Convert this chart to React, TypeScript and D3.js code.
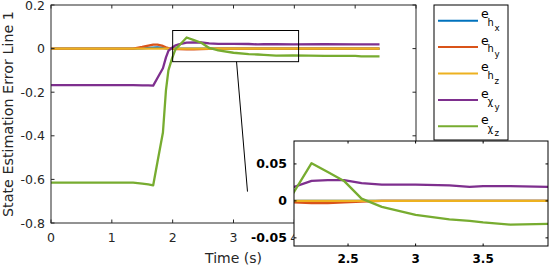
import * as d3 from "d3";
import React from "react";

// time samples (s) and error values
const tBase = [0, 1.35, 1.5, 1.6, 1.68, 1.75, 1.84, 1.89, 1.93, 1.99, 2.05, 2.1, 2.23, 2.35, 2.47, 2.6, 2.75, 3.0, 3.25, 3.4, 3.5, 3.7, 3.98, 4.5, 5.0, 5.1, 5.4];

const ehx = [0, 0, 0.001, 0.003, 0.004, 0.005, 0.003, 0.001, 0, 0, 0, 0, 0, 0, 0, 0, 0, 0, 0, 0, 0, 0, 0, 0, 0, 0, 0];
const ehy = [0, 0, 0.008, 0.014, 0.018, 0.018, 0.012, 0.006, 0.002, 0, -0.002, -0.002, -0.003, -0.003, -0.002, -0.001, 0, 0, 0, 0, 0, 0, 0, 0, 0, 0, 0];
const ehz = [0, 0, 0, 0, 0, 0, 0, 0, 0, 0, 0, 0, 0, 0, 0, 0, 0, 0, 0, 0, 0, 0, 0, 0, 0, 0, 0];
const exy = [-0.168, -0.168, -0.169, -0.169, -0.17, -0.135, -0.09, -0.04, -0.01, 0.004, 0.015, 0.019, 0.027, 0.028, 0.028, 0.024, 0.022, 0.022, 0.021, 0.019, 0.02, 0.02, 0.019, 0.02, 0.019, 0.019, 0.019];
const exz = [-0.615, -0.615, -0.619, -0.623, -0.627, -0.52, -0.385, -0.19, -0.1, -0.045, 0.0, 0.012, 0.051, 0.039, 0.027, 0.003, -0.008, -0.019, -0.025, -0.027, -0.029, -0.032, -0.031, -0.033, -0.033, -0.036, -0.036];

const seriesNames = ["hx", "hy", "hz", "xy", "xz"];
const seriesValues = [ehx, ehy, ehz, exy, exz];
const seriesColors = ["#0072BD", "#D95319", "#EDB120", "#7E2F8E", "#77AC30"];
const legendSub = ["h", "h", "h", "\u03C7", "\u03C7"];
const legendSubSub = ["x", "y", "z", "y", "z"];

const xTicks = [0, 1, 2, 3, 4, 5, 6];
const yTicks = [-0.8, -0.6, -0.4, -0.2, 0, 0.2];
const yTickLabels = ["-0.8", "-0.6", "-0.4", "-0.2", "0", "0.2"];
const insetXTicks = [2.5, 3, 3.5];
const insetYTicks = [-0.05, 0, 0.05];
const insetYTickLabels = ["-0.05", "0", "0.05"];

// zoom rectangle drawn on the main axes, and the connector line to the inset
const zoomBoxX = [2.0, 4.07];
const zoomBoxY = [-0.06, 0.083];
const connectorX = [3.05, 3.23];
const connectorY = [-0.06, -0.656];

const axisColor = "#262626";
const font = "'DejaVu Sans', sans-serif";

export default function App() {
  const x = d3.scaleLinear().domain([0, 6]).range([51, 416]);
  const y = d3.scaleLinear().domain([-0.8, 0.2]).range([223, 5]);
  const xi = d3.scaleLinear().domain([2.1, 3.98]).range([294, 548]);
  const yi = d3.scaleLinear().domain([-0.061, 0.081]).range([246, 141]);

  const pts = (vals: number[]) => tBase.map((t, i) => [t, vals[i]] as [number, number]);
  const mainLine = d3.line<[number, number]>().x((d) => x(d[0])).y((d) => y(d[1]));
  const insetLine = d3.line<[number, number]>().x((d) => xi(d[0])).y((d) => yi(d[1]));

  const [mx0, mx1] = x.range();
  const [my0, my1] = [y(0.2), y(-0.8)];
  const [ix0, ix1] = xi.range();
  const [iy0, iy1] = [yi(0.081), yi(-0.061)];
  const tk = 3.5;
  const itk = 2.5;

  const legX = 434;
  const legY = 5;
  const legW = 74;
  const legH = 135;
  const rowY = (i: number) => 20.7 + i * 26.4;

  return (
    <div style={{ position: "fixed", left: 0, top: 0 }}>
      <svg width={550} height={265} style={{ display: "block", background: "#fff" }} fontFamily={font}>
        <defs>
          <clipPath id="mainClip">
            <rect x={mx0} y={my0} width={mx1 - mx0} height={my1 - my0} />
          </clipPath>
          <clipPath id="insetClip">
            <rect x={ix0} y={iy0} width={ix1 - ix0} height={iy1 - iy0} />
          </clipPath>
        </defs>

        {/* main axes */}
        <rect x={mx0} y={my0} width={mx1 - mx0} height={my1 - my0} fill="#fff" />
        <g clipPath="url(#mainClip)">
          {seriesValues.map((vals, i) => (
            <path key={seriesNames[i]} d={mainLine(pts(vals)) ?? ""} fill="none" stroke={seriesColors[i]} strokeWidth={2.3} strokeLinejoin="round" />
          ))}
        </g>
        <rect x={mx0} y={my0} width={mx1 - mx0} height={my1 - my0} fill="none" stroke={axisColor} strokeWidth={1} />
        {xTicks.map((t) => (
          <g key={"xt" + t}>
            <line x1={x(t)} x2={x(t)} y1={my1} y2={my1 - tk} stroke={axisColor} />
            <line x1={x(t)} x2={x(t)} y1={my0} y2={my0 + tk} stroke={axisColor} />
            <text x={x(t)} y={241.5} textAnchor="middle" fontSize={12.5} fill={axisColor}>{t}</text>
          </g>
        ))}
        {yTicks.map((v, i) => (
          <g key={"yt" + v}>
            <line x1={mx0} x2={mx0 + tk} y1={y(v)} y2={y(v)} stroke={axisColor} />
            <line x1={mx1} x2={mx1 - tk} y1={y(v)} y2={y(v)} stroke={axisColor} />
            <text x={45} y={Math.max(y(v) + 4.5, 9.8)} textAnchor="end" fontSize={12.5} fill={axisColor}>{yTickLabels[i]}</text>
          </g>
        ))}
        <text x={(mx0 + mx1) / 2} y={262.5} textAnchor="middle" fontSize={14} fill={axisColor}>Time (s)</text>
        <text transform={`translate(13,${(my0 + my1) / 2}) rotate(-90)`} textAnchor="middle" fontSize={14.3} fill={axisColor}>
          State Estimation Error Line 1
        </text>

        {/* zoom box and connector */}
        <rect x={x(zoomBoxX[0])} y={y(zoomBoxY[1])} width={x(zoomBoxX[1]) - x(zoomBoxX[0])} height={y(zoomBoxY[0]) - y(zoomBoxY[1])} fill="none" stroke="#000" strokeWidth={1} />
        <line x1={x(connectorX[0])} y1={y(connectorY[0])} x2={x(connectorX[1])} y2={y(connectorY[1])} stroke="#000" strokeWidth={1} />

        {/* legend */}
        <rect x={legX} y={legY} width={legW} height={legH} fill="#fff" stroke="#000" strokeWidth={1} />
        {seriesNames.map((n, i) => (
          <g key={"leg" + n}>
            <line x1={438} x2={478} y1={rowY(i)} y2={rowY(i)} stroke={seriesColors[i]} strokeWidth={2} />
            <text x={481} y={rowY(i) - 2.4} fontSize={12.5} fill="#000">e</text>
            <text x={487.5} y={rowY(i) + 5.3} fontSize={9.8} fill="#000">{legendSub[i]}</text>
            <text x={494.5} y={rowY(i) + 10} fontSize={8.7} fill="#000">{legendSubSub[i]}</text>
          </g>
        ))}

        {/* inset axes */}
        <rect x={ix0} y={iy0} width={ix1 - ix0} height={iy1 - iy0} fill="#fff" />
        <g clipPath="url(#insetClip)">
          {seriesValues.map((vals, i) => (
            <path key={"in" + seriesNames[i]} d={insetLine(pts(vals)) ?? ""} fill="none" stroke={seriesColors[i]} strokeWidth={2.3} strokeLinejoin="round" />
          ))}
        </g>
        <rect x={ix0} y={iy0} width={ix1 - ix0} height={iy1 - iy0} fill="none" stroke="#000" strokeWidth={1} />
        {insetXTicks.map((t) => (
          <g key={"ixt" + t}>
            <line x1={xi(t)} x2={xi(t)} y1={iy1} y2={iy1 - itk} stroke="#000" />
            <line x1={xi(t)} x2={xi(t)} y1={iy0} y2={iy0 + itk} stroke="#000" />
            <text x={xi(t)} y={263} textAnchor="middle" fontSize={12} fontWeight="bold" fill="#000">{t}</text>
          </g>
        ))}
        {insetYTicks.map((v, i) => (
          <g key={"iyt" + v}>
            <line x1={ix0} x2={ix0 + itk} y1={yi(v)} y2={yi(v)} stroke="#000" />
            <line x1={ix1} x2={ix1 - itk} y1={yi(v)} y2={yi(v)} stroke="#000" />
            <text x={287} y={yi(v) + 4.5} textAnchor="end" fontSize={12.5} fontWeight="bold" fill="#000">{insetYTickLabels[i]}</text>
          </g>
        ))}
      </svg>
    </div>
  );
}
